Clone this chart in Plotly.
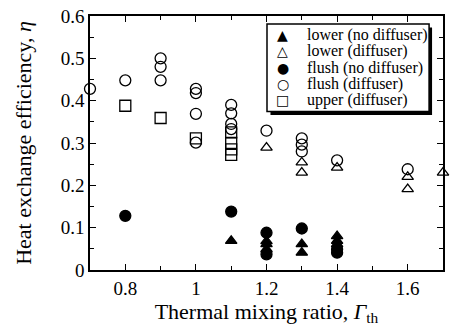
import plotly.graph_objects as go

# Data
lower_nd_x = [1.1, 1.2, 1.2, 1.2, 1.3, 1.3, 1.4, 1.4, 1.4]
lower_nd_y = [0.069, 0.068, 0.061, 0.049, 0.061, 0.041, 0.080, 0.069, 0.061]

lower_d_x = [1.2, 1.3, 1.3, 1.4, 1.6, 1.6, 1.7]
lower_d_y = [0.289, 0.254, 0.230, 0.242, 0.220, 0.191, 0.230]

flush_nd_x = [0.8, 1.1, 1.2, 1.2, 1.3, 1.4, 1.4]
flush_nd_y = [0.128, 0.138, 0.088, 0.037, 0.098, 0.049, 0.041]

flush_d_x = [0.7, 0.8, 0.9, 0.9, 0.9, 1.0, 1.0, 1.0, 1.0, 1.1, 1.1, 1.1, 1.1, 1.2, 1.3, 1.3, 1.3, 1.4, 1.6]
flush_d_y = [0.428, 0.448, 0.500, 0.480, 0.448, 0.428, 0.418, 0.369, 0.301, 0.390, 0.370, 0.345, 0.333, 0.329, 0.311, 0.296, 0.280, 0.259, 0.238]

upper_d_x = [0.8, 0.9, 1.0, 1.1, 1.1, 1.1, 1.1]
upper_d_y = [0.388, 0.359, 0.311, 0.325, 0.300, 0.285, 0.272]

series_names = ["lower (no diffuser)", "lower (diffuser)", "flush (no diffuser)",
                "flush (diffuser)", "upper (diffuser)"]
legend_glyphs = ["▲", "△", "●", "○", "□"]

series = [
    (series_names[0], lower_nd_x, lower_nd_y, "triangle-up", 10),
    (series_names[1], lower_d_x, lower_d_y, "triangle-up-open", 10),
    (series_names[2], flush_nd_x, flush_nd_y, "circle", 11),
    (series_names[3], flush_d_x, flush_d_y, "circle-open", 11),
    (series_names[4], upper_d_x, upper_d_y, "square-open", 11),
]

FONT = "Liberation Serif"

fig = go.Figure()
for name, xs, ys, sym, sz in series:
    fig.add_trace(go.Scatter(
        x=xs, y=ys, mode="markers", name=name, showlegend=False, cliponaxis=False,
        marker=dict(symbol=sym, size=sz, color="black",
                    line=dict(color="black", width=1.3)),
    ))

axis_common = dict(
    showgrid=False, zeroline=False, showline=True, linecolor="black", linewidth=1.5,
    mirror="allticks", ticks="inside", ticklen=6, tickwidth=1.3, tickcolor="black",
    tickfont=dict(family=FONT, size=19, color="black"),
)

fig.update_xaxes(
    range=[0.7, 1.7], tick0=0.8, dtick=0.2,
    minor=dict(ticks="inside", ticklen=4, dtick=0.1, tick0=0.7, tickcolor="black", tickwidth=1),
    title=dict(text="Thermal mixing ratio, <i>Γ</i><sub>th</sub>",
               font=dict(family=FONT, size=22, color="black"), standoff=3),
    **axis_common,
)
fig.update_yaxes(
    range=[0, 0.6], tick0=0, dtick=0.1,
    minor=dict(ticks="inside", ticklen=4, dtick=0.05, tickcolor="black", tickwidth=1),
    title=dict(text="Heat exchange efficiency, <i>η</i>",
               font=dict(family=FONT, size=22, color="black"), standoff=23),
    **axis_common,
)

# plot area in pixels: x 90..445, y 15..270
L, R, T, B = 90, 445, 15, 270
def px(x):
    return (x - L) / (R - L)
def py(y):
    return (B - y) / (B - T)

# legend box with drop shadow
fig.add_shape(type="rect", xref="paper", yref="paper",
              x0=px(271.5), x1=px(434), y0=py(114.5), y1=py(26.5),
              fillcolor="black", line=dict(width=0), layer="above")
fig.add_shape(type="rect", xref="paper", yref="paper",
              x0=px(268), x1=px(431), y0=py(111), y1=py(23),
              fillcolor="white", line=dict(color="black", width=1.5), layer="above")

row_y = [34.0, 50.4, 66.8, 83.2, 99.4]
for name, glyph, ry in zip(series_names, legend_glyphs, row_y):
    fig.add_annotation(x=px(284), y=py(ry), xref="paper", yref="paper",
                       text=glyph, showarrow=False, xanchor="center", yanchor="middle",
                       font=dict(family="DejaVu Sans", size=14, color="black"))
    fig.add_annotation(x=px(306), y=py(ry), xref="paper", yref="paper",
                       text=name, showarrow=False, xanchor="left", yanchor="middle",
                       font=dict(family=FONT, size=16, color="black"))

fig.update_layout(
    width=451, height=328,
    margin=dict(l=L, r=451 - R, t=T, b=328 - B),
    paper_bgcolor="white", plot_bgcolor="white",
    font=dict(family=FONT, color="black"),
    showlegend=False,
)

fig.write_html("out.html", config={"displayModeBar": False},
               post_script="document.body.style.margin='0';document.body.style.overflow='hidden';")
